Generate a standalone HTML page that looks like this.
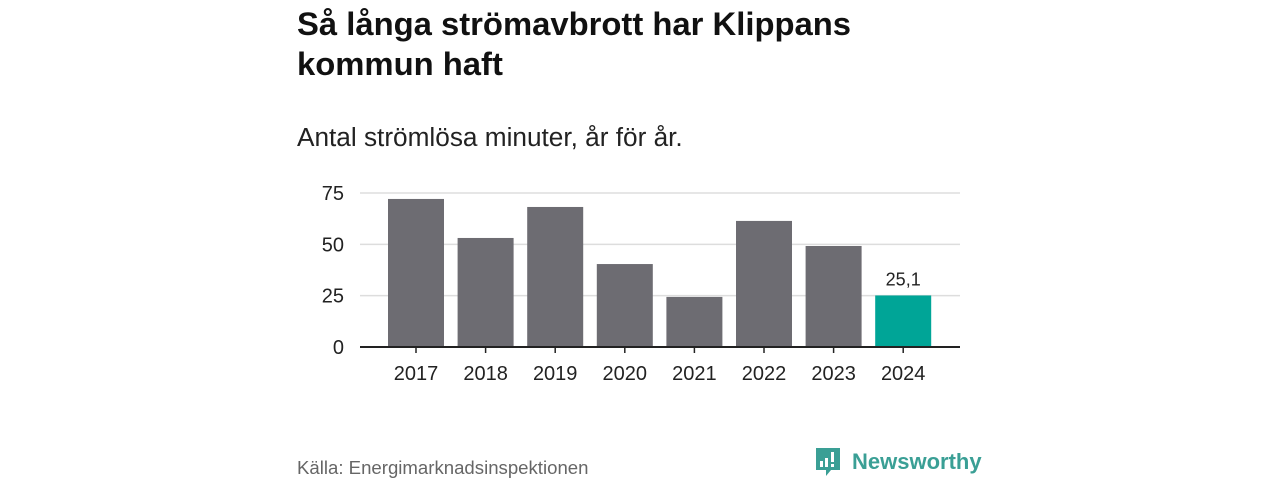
<!DOCTYPE html>
<html><head><meta charset="utf-8"><style>
html,body{margin:0;padding:0;background:#fff;width:1280px;height:480px;overflow:hidden;font-family:"Liberation Sans",sans-serif;}
.t{position:absolute;left:297px;top:4px;font-size:32.8px;font-weight:bold;color:#111;line-height:40px;}
.s{position:absolute;left:297px;top:122px;font-size:26.2px;color:#222;}
.src{position:absolute;left:297px;top:457px;font-size:18.6px;color:#666;}
.logo{position:absolute;left:815px;top:445px;}
</style></head><body>
<div class="t">Så långa strömavbrott har Klippans<br>kommun haft</div>
<div class="s">Antal strömlösa minuter, år för år.</div>
<svg id="c" width="1280" height="480" style="position:absolute;left:0;top:0"></svg>
<div class="src">Källa: Energimarknadsinspektionen</div>
<div class="logo">
<svg width="200" height="36"><path d="M1 3h24v22h-9l-5 6v-6H1z" fill="#3a9f95"/>
<rect x="5" y="16" width="3" height="6" fill="#fff"/><rect x="10" y="13" width="3" height="9" fill="#fff"/><rect x="16" y="7" width="3" height="10" fill="#fff"/><rect x="16" y="19" width="3" height="3" fill="#fff"/>
<text x="37" y="24" font-family="Liberation Sans, sans-serif" font-size="22" font-weight="bold" fill="#3a9f95">Newsworthy</text></svg></div>
<script>
const categories=["2017","2018","2019","2020","2021","2022","2023","2024"];
const values=[72.1,53.1,68.2,40.4,24.4,61.4,49.2,25.1];
const yTicks=[0,25,50,75];
const highlightLabel="25,1";
const svg=document.getElementById('c');
const NS="http://www.w3.org/2000/svg";
const y0=347,pxPer=(347-193)/75;
function y(v){return y0-v*pxPer;}
function x(i){return 388+i*69.6;}
const bw=56;
function el(t,a){const e=document.createElementNS(NS,t);for(const k in a)e.setAttribute(k,a[k]);svg.appendChild(e);return e;}
yTicks.forEach(t=>{
  if(t>0){const g=el('line',{x1:360,x2:960,y1:y(t),y2:y(t),stroke:'#ddd','stroke-width':1.5});
  
  }
  const l=el('text',{x:344,y:y(t)+7,'text-anchor':'end','font-size':20,fill:'#222','font-family':'Liberation Sans, sans-serif'});
  l.textContent=t;
  
  
});
values.forEach((v,i)=>{
  const last=i===values.length-1;
  const r=el('rect',{x:x(i),y:y(v),width:bw,height:y0-y(v),fill:last?'#00a597':'#6d6c72'});
  
  
  const tk=el('line',{x1:x(i)+bw/2,x2:x(i)+bw/2,y1:y0,y2:y0+6,stroke:'#222','stroke-width':1.5});
  
  
  const t=el('text',{x:x(i)+bw/2,y:380,'text-anchor':'middle','font-size':20,fill:'#222','font-family':'Liberation Sans, sans-serif'});
  t.textContent=categories[i];
  
  
  if(last){const vl=el('text',{x:x(i)+bw/2,y:y(v)-10,'text-anchor':'middle','font-size':18,fill:'#222','font-family':'Liberation Sans, sans-serif'});
  vl.textContent=highlightLabel;
  
  }
});
const ax=el('line',{x1:360,x2:960,y1:y0,y2:y0,stroke:'#222','stroke-width':2});


</script>
</body></html>
